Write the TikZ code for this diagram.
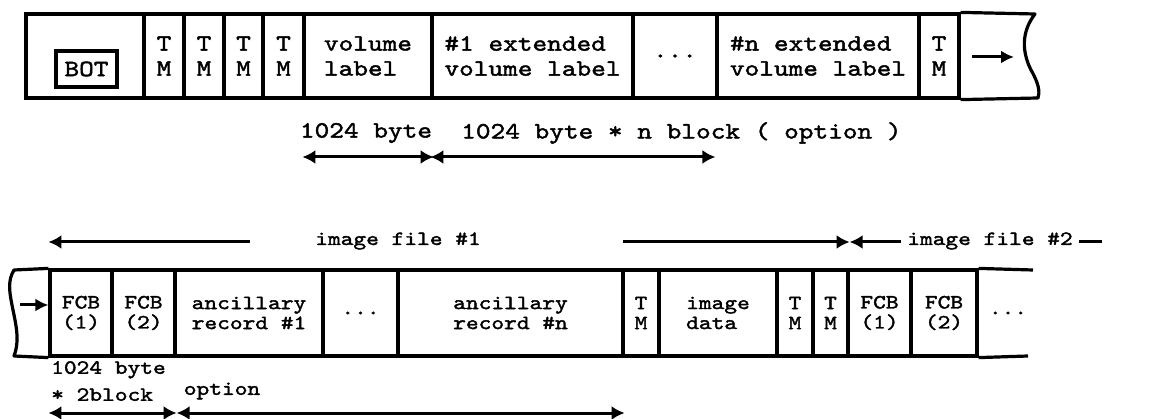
\documentclass[tikz,border=0pt]{standalone}
\usepackage{fontspec}
\usetikzlibrary{arrows.meta}
\newfontfamily\tapefont{lmmono10-regular.otf}[FakeStretch=1.2,FakeBold=1.8]
\newcommand\topfont{\tapefont\fontsize{23.3}{25}\selectfont}
\newcommand\botfont{\tapefont\fontsize{20.2}{20}\selectfont}
\tikzset{
  tapeline/.style={line width=3.2pt, line join=round},
  topcell/.style={draw, line width=3.2pt, minimum height=84pt, inner sep=0pt, align=left, font=\topfont},
  botcell/.style={draw, line width=3.2pt, minimum height=86pt, inner sep=0pt, align=left, font=\botfont},
  botbox/.style={draw, line width=3.2pt, minimum width=61pt, minimum height=36pt, inner sep=0pt, font=\topfont},
  toplbl/.style={inner sep=0pt, font=\topfont},
  botlbl/.style={inner sep=0pt, font=\botfont, align=left},
  dimarrow/.style={line width=3pt, {Latex[length=13pt,width=14pt]}-{Latex[length=13pt,width=14pt]}},
  leftarrow/.style={line width=3pt, {Latex[length=13pt,width=14pt]}-},
  rightarrow/.style={line width=3pt, -{Latex[length=13pt,width=14pt]}},
  smallarrow/.style={line width=3pt, -{Latex[length=13pt,width=13pt]}},
}
\begin{document}
\begin{tikzpicture}[x=1pt, y=-1pt]
\useasboundingbox (0,0) rectangle (1175,419);
% ---------- top tape ----------
\node[topcell, minimum width=118pt] (bot) at (85,56) {};
\node[botbox] (botlabel) at (86.5,69) {BOT};
\node[topcell, minimum width=40pt] (tm1) at (164,56) {T\\M};
\node[topcell, minimum width=40pt] (tm2) at (204,56) {T\\M};
\node[topcell, minimum width=39pt] (tm3) at (243.5,56) {T\\M};
\node[topcell, minimum width=41pt] (tm4) at (283.5,56) {T\\M};
\node[topcell, minimum width=128pt] (vol) at (368,56) {volume\\label};
\node[topcell, minimum width=201pt] (ext1) at (532.5,56) {\#1 extended\\volume label};
\node[topcell, minimum width=84pt] (dots1) at (675,56) {...};
\node[topcell, minimum width=202pt] (extn) at (818,56) {\#n extended\\volume label};
\node[topcell, minimum width=40pt] (tm5) at (939,56) {T\\M};
\coordinate (rt) at (1035,14);
\coordinate (rb) at (1038,98);
\draw[tapeline] (tm5.north east) -- (rt)
  .. controls (1021,32) and (1022,52) .. (1031,70)
  .. controls (1039,84) and (1040,92) .. (rb) -- (tm5.south east);
\coordinate (ta) at (972,57);
\coordinate (tb) at (1014,57);
\draw[smallarrow] (ta) -- (tb);
% top dimension arrows
\coordinate (dimy) at (0,157);
\draw[dimarrow] (vol.west |- dimy) -- (vol.east |- dimy);
\draw[dimarrow] (ext1.west |- dimy) -- (extn.west |- dimy);
\node[toplbl] (l1) at (366,133) {1024 byte};
\node[toplbl, anchor=west] (l2) at (461,133) {1024 byte * n block ( option )};
% ---------- bottom tape ----------
\node[botcell, minimum width=62pt] (fa1) at (81,313) {FCB\\(1)};
\node[botcell, minimum width=63pt] (fa2) at (143.5,313) {FCB\\(2)};
\node[botcell, minimum width=148pt] (anc1) at (249,313) {ancillary\\record \#1};
\node[botcell, minimum width=75pt] (dots2) at (360.5,313) {...};
\node[botcell, minimum width=225pt] (ancn) at (510.5,313) {ancillary\\record \#n};
\node[botcell, minimum width=36pt] (tmb1) at (641,313) {T\\M};
\node[botcell, minimum width=118pt] (img) at (718,313) {image\\data};
\node[botcell, minimum width=36pt] (tmb2) at (795,313) {T\\M};
\node[botcell, minimum width=35pt] (tmb3) at (830.5,313) {T\\M};
\node[botcell, minimum width=63pt] (fb1) at (879.5,313) {FCB\\(1)};
\node[botcell, minimum width=66pt] (fb2) at (944,313) {FCB\\(2)};
\node[botlbl] (dots3) at (1008,313) {...};
\coordinate (lt) at (14,270);
\coordinate (lb) at (14,356);
\draw[tapeline] (fa1.north west) -- (lt)
  .. controls (8,280) and (9,290) .. (12,305)
  .. controls (16,325) and (20,340) .. (lb) -- (fa1.south west);
\coordinate (re1) at (1033,270);
\coordinate (re2) at (1028,356);
\draw[tapeline] (fb2.north east) -- (re1);
\draw[tapeline] (fb2.south east) -- (re2);
\coordinate (la) at (20,305);
\draw[smallarrow] (la) -- (fa1.west |- la);
% image file arrows
\coordinate (fy) at (0,242);
\coordinate (g1) at (250,242);
\coordinate (g2) at (623,242);
\coordinate (g3) at (1102,242);
\draw[leftarrow] (fa1.west |- fy) -- (g1);
\node[botlbl] (if1) at (398,241) {image file \#1};
\draw[rightarrow] (g2) -- (tmb3.east |- fy);
\draw[leftarrow] (tmb3.east |- fy) -- (g3);
\node[botlbl, fill=white, inner xsep=6pt, inner ysep=2pt] (if2) at (990,241) {image file \#2};
% bottom dimension
\coordinate (by) at (0,413);
\draw[dimarrow] (fa1.west |- by) -- (fa2.east |- by);
\draw[dimarrow] (fa2.east |- by) -- (ancn.east |- by);
\node[botlbl, anchor=north west, font=\tapefont\fontsize{20.2}{27}\selectfont] (lbl) at (51,361) {1024 byte\\* 2block};
\node[botlbl] (opt) at (222,391) {option};
\end{tikzpicture}
\end{document}
